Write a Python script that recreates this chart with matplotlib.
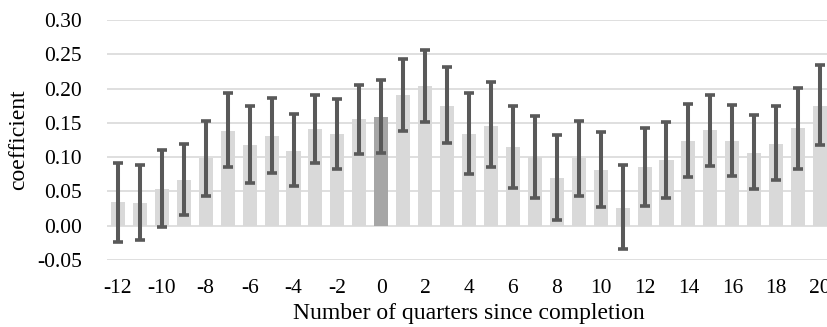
import matplotlib.pyplot as plt

plt.rcParams['font.family'] = ['Liberation Serif', 'DejaVu Serif']
plt.rcParams['axes.unicode_minus'] = False

# quarters relative to completion
quarters = list(range(-12, 21))

# point estimates
coef = [0.034, 0.033, 0.054, 0.067, 0.098, 0.138, 0.117, 0.131,
        0.109, 0.141, 0.133, 0.155, 0.159, 0.190, 0.204, 0.175,
        0.134, 0.146, 0.114, 0.100, 0.069, 0.098, 0.081, 0.026,
        0.085, 0.096, 0.123, 0.139, 0.123, 0.106, 0.119, 0.142, 0.175]

# confidence interval bounds
ci_high = [0.091, 0.088, 0.110, 0.119, 0.153, 0.194, 0.174, 0.186,
           0.163, 0.191, 0.184, 0.205, 0.212, 0.243, 0.256, 0.231,
           0.193, 0.209, 0.174, 0.160, 0.132, 0.153, 0.136, 0.088,
           0.143, 0.151, 0.177, 0.190, 0.176, 0.161, 0.175, 0.201, 0.235]
ci_low = [-0.024, -0.021, -0.002, 0.016, 0.044, 0.085, 0.062, 0.077,
          0.058, 0.091, 0.083, 0.105, 0.106, 0.138, 0.151, 0.120,
          0.076, 0.085, 0.055, 0.041, 0.008, 0.044, 0.027, -0.034,
          0.028, 0.041, 0.071, 0.087, 0.072, 0.053, 0.066, 0.083, 0.117]

err_low = [c - l for c, l in zip(coef, ci_low)]
err_high = [h - c for c, h in zip(coef, ci_high)]
colors = ['#a6a6a6' if q == 0 else '#d9d9d9' for q in quarters]

fig = plt.figure(figsize=(8.27, 3.27), dpi=100)
# the right end of the plot runs past the figure edge, as in the original
ax = fig.add_axes([0.1294, 0.205, 0.8755, 0.734])

ax.bar(quarters, coef, width=0.64, color=colors, zorder=2)
ax.errorbar(quarters, coef, yerr=[err_low, err_high], fmt='none',
            ecolor='#595959', elinewidth=2.9, capsize=3.3, capthick=2.6, zorder=3)

ax.set_xlim(-12.5, 20.5)
ax.set_ylim(-0.05, 0.30)
ax.set_yticks([-0.05, 0, 0.05, 0.10, 0.15, 0.20, 0.25, 0.30])
ax.set_yticklabels(['-0.05', '0.00', '0.05', '0.10', '0.15', '0.20', '0.25', '0.30'])
ax.set_xticks(range(-12, 21, 2))
ax.grid(axis='y', color='#d9d9d9', linewidth=1.2, zorder=0)
ax.set_axisbelow(True)
for s in ax.spines.values():
    s.set_visible(False)
ax.tick_params(length=0, labelsize=15.5)
ax.tick_params(axis='x', pad=14)
ax.tick_params(axis='y', pad=18)

ax.set_xlabel('Number of quarters since completion', fontsize=17, labelpad=3)
ax.set_ylabel('coefficient', fontsize=17, labelpad=6)

fig.savefig('out.png')
